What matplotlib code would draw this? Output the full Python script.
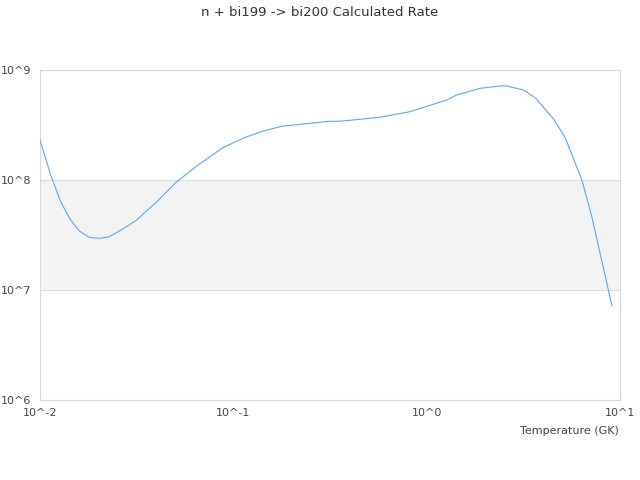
import matplotlib
matplotlib.use("Agg")
import matplotlib.pyplot as plt
from matplotlib.ticker import FixedLocator, FixedFormatter, NullLocator

temperature = [0.01, 0.01136, 0.0128, 0.0143, 0.01597, 0.018, 0.0203, 0.0226, 0.0254,
               0.0286, 0.0316, 0.0402, 0.0510, 0.0647, 0.0888, 0.115, 0.143, 0.178,
               0.316, 0.356, 0.574, 0.821, 1.27, 1.43, 1.89, 2.40, 2.60, 3.16, 3.64,
               4.53, 5.2, 6.35, 7.15, 9.08]
rate = [2.31e8, 1.11e8, 6.35e7, 4.4e7, 3.44e7, 3.01e7, 2.95e7, 3.03e7, 3.39e7,
        3.85e7, 4.33e7, 6.35e7, 9.66e7, 1.34e8, 1.98e8, 2.44e8, 2.79e8, 3.08e8,
        3.42e8, 3.42e8, 3.72e8, 4.18e8, 5.34e8, 5.93e8, 6.81e8, 7.16e8, 7.16e8,
        6.58e8, 5.6e8, 3.59e8, 2.44e8, 1.0e8, 4.64e7, 7.2e6]

x_ticks = [0.01, 0.1, 1, 10]
x_labels = ["10^-2", "10^-1", "10^0", "10^1"]
y_ticks = [1e6, 1e7, 1e8, 1e9]
y_labels = ["10^6", "10^7", "10^8", "10^9"]
title = "n + bi199 -> bi200 Calculated Rate"
xlabel = "Temperature (GK)"

fig = plt.figure(figsize=(6.4, 4.8), dpi=100)
ax = fig.add_axes([40/640, 1-400/480, 580/640, 330/480])
ax.set_xscale("log")
ax.set_yscale("log")
ax.set_xlim(0.01, 10)
ax.set_ylim(1e6, 1e9)

ax.axhspan(1e7, 1e8, color="#f3f3f3", zorder=0, lw=0)
for yv in y_ticks:
    ax.axhline(yv, color="#dddddd", lw=0.8, zorder=1)

ax.plot(temperature, rate, color="#5ba8f0", lw=0.8, zorder=3)

for s in ax.spines.values():
    s.set_color("#d9d9d9")
    s.set_linewidth(0.8)

ax.xaxis.set_major_locator(FixedLocator(x_ticks))
ax.xaxis.set_major_formatter(FixedFormatter(x_labels))
ax.xaxis.set_minor_locator(NullLocator())
ax.yaxis.set_major_locator(FixedLocator(y_ticks))
ax.yaxis.set_major_formatter(FixedFormatter(y_labels))
ax.yaxis.set_minor_locator(NullLocator())
ax.tick_params(axis="both", length=0, labelsize=8, labelcolor="#444444")
ax.tick_params(axis="x", pad=6)
ax.tick_params(axis="y", pad=6)

fig.text(0.5, 1-12/480, title, ha="center", va="center", fontsize=9.5, color="#333333")
fig.text(619/640, 1-431/480, xlabel, ha="right", va="center", fontsize=8, color="#444444")

fig.savefig("out.png", dpi=100)
